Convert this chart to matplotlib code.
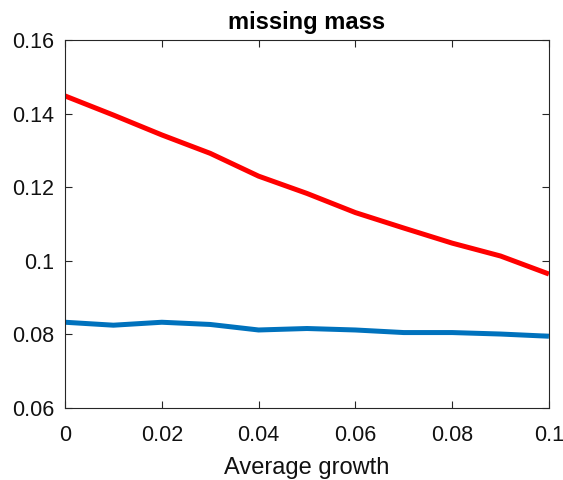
import matplotlib
matplotlib.use("Agg")
import matplotlib.pyplot as plt

growth = [0.0, 0.01, 0.02, 0.03, 0.04, 0.05, 0.06, 0.07, 0.08, 0.09, 0.10]
red_vals = [0.1448, 0.1396, 0.1342, 0.1292, 0.1230, 0.1183, 0.1131, 0.1089, 0.1048, 0.1013, 0.0964]
blue_vals = [0.0833, 0.0825, 0.0833, 0.0827, 0.0812, 0.0816, 0.0812, 0.0805, 0.0805, 0.0801, 0.0795]
xticks = [0, 0.02, 0.04, 0.06, 0.08, 0.1]
xticklabels = ["0", "0.02", "0.04", "0.06", "0.08", "0.1"]
yticks = [0.06, 0.08, 0.1, 0.12, 0.14, 0.16]
yticklabels = ["0.06", "0.08", "0.1", "0.12", "0.14", "0.16"]

plt.rcParams['font.family'] = ['Liberation Sans', 'DejaVu Sans']
fig = plt.figure(figsize=(5.63, 4.8), dpi=100)
ax = fig.add_axes([0.1155, 0.15, 0.975 - 0.1155, 0.9167 - 0.15])
ax.plot(growth, red_vals, color=(1, 0, 0), lw=3.6, solid_capstyle='butt', solid_joinstyle='round')
ax.plot(growth, blue_vals, color=(0, 0.447, 0.741), lw=3.6, solid_capstyle='butt', solid_joinstyle='round')
ax.set_xlim(0, 0.1)
ax.set_ylim(0.06, 0.16)
ax.set_xticks(xticks)
ax.set_xticklabels(xticklabels)
ax.set_yticks(yticks)
ax.set_yticklabels(yticklabels)
ax.tick_params(direction='in', labelsize=15.5, length=5, color='#262626', labelcolor='#111111',
               top=True, right=True, labeltop=False, labelright=False)
ax.tick_params(axis='x', pad=12)
ax.tick_params(axis='y', pad=8)
for lab in ax.get_xticklabels() + ax.get_yticklabels():
    lab.set_fontweight('medium')
for s in ax.spines.values():
    s.set_color('#262626')
    s.set_linewidth(0.8)
ax.set_xlabel("Average growth", fontsize=17, labelpad=8, color='#111111')
ax.set_title("missing mass", fontsize=17, fontweight='bold', pad=8)
fig.savefig("out.png", dpi=100)
